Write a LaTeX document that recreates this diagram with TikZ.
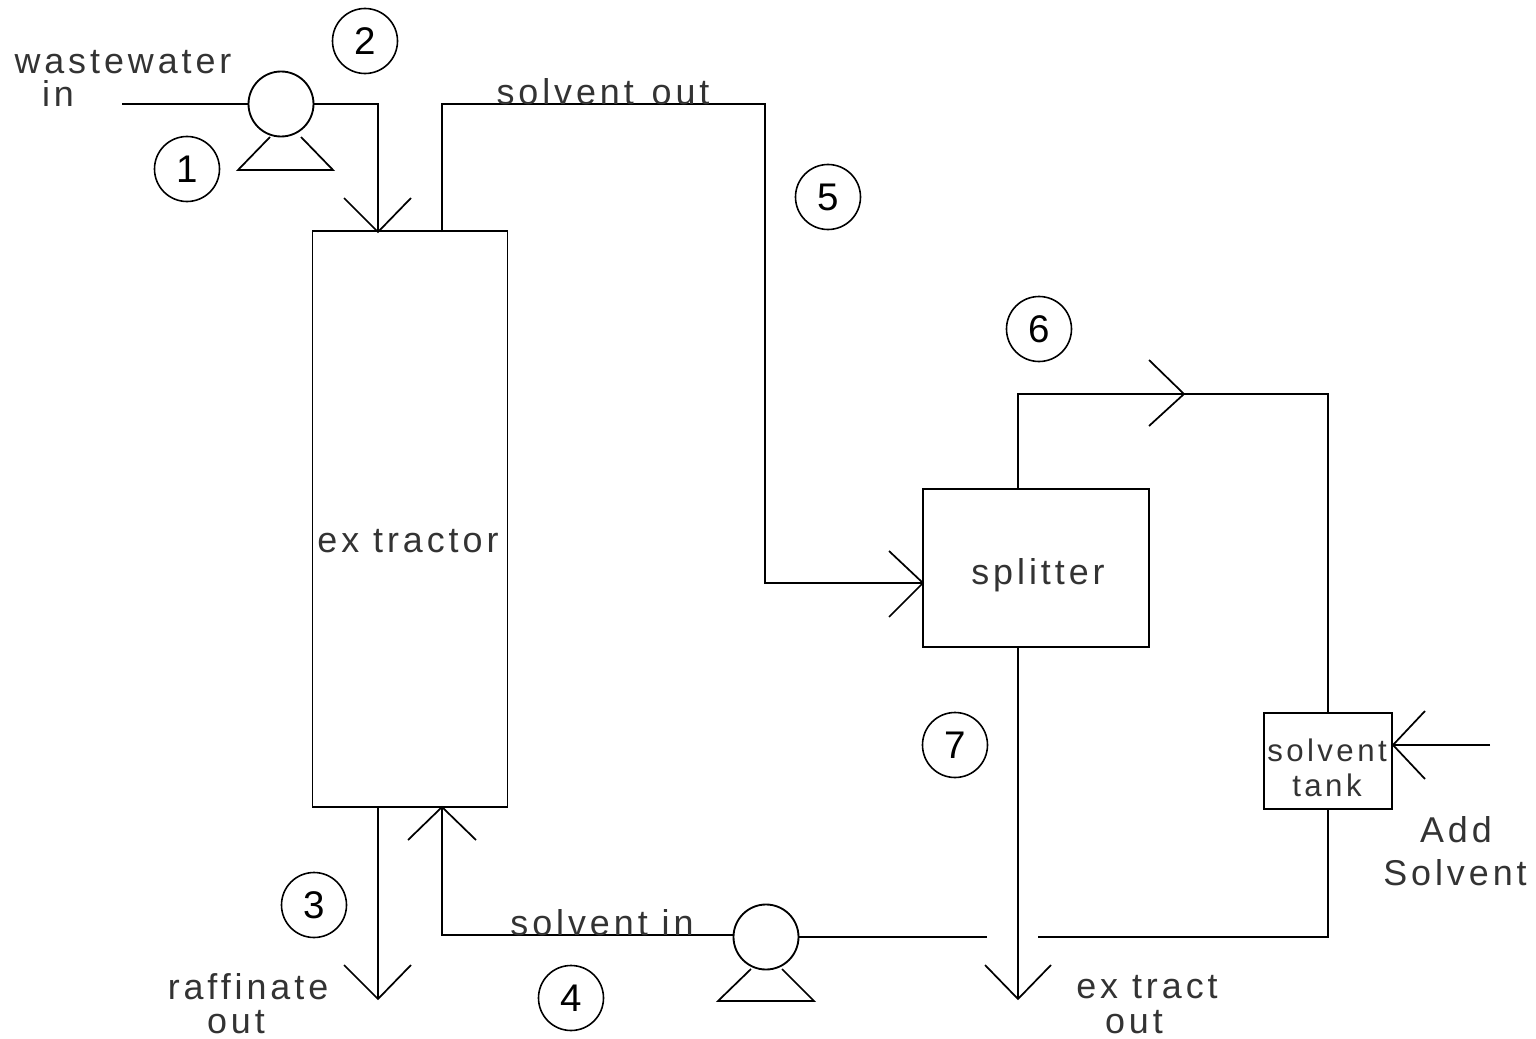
\documentclass[tikz,border=0pt]{standalone}
\usepackage{fontspec}
\setmainfont[LetterSpace=11]{Liberation Sans}
\usetikzlibrary{calc}
\tikzset{
  unit/.style={draw, line width=1.4pt, inner sep=0pt},
  pipe/.style={line width=1.3pt},
  tag/.style={circle, draw, line width=1.2pt, minimum size=1.72cm, inner sep=0pt, font=\fontsize{29}{29}\selectfont},
  pumpbody/.style={circle, draw, line width=1.4pt, minimum size=1.72cm, inner sep=0pt},
  lbl/.style={inner sep=0pt, align=center, font=\fontsize{27}{27}\selectfont, text=black!80}
}
\begin{document}
\begin{tikzpicture}[x=0.0264583cm,y=-0.0264583cm]
  \useasboundingbox (0,0) rectangle (1536,1039);
  % vessels
  \node[unit, minimum width=5.16cm, minimum height=15.24cm] (extractor) at (410,519) {};
  \node[unit, minimum width=6cm, minimum height=4.2cm] (splitter) at (1036,568) {};
  \node[unit, minimum width=3.4cm, minimum height=2.53cm] (tank) at (1328,761) {};
  \node[lbl] (extractorlbl) at (408,541) {ex tractor};
  \node[lbl] (splitterlbl) at (1038,575) {splitter};
  \node[lbl, font=\fontsize{23.5}{23.5}\selectfont] (tanklbl) at (1327,750) {solvent};
  \node[lbl, font=\fontsize{23.5}{23.5}\selectfont] (tanklblb) at (1327,785) {tank};
  % pumps
  \node[pumpbody] (pumpa) at (281,104) {};
  \node[pumpbody] (pumpb) at (766,937) {};
  \draw[pipe] (270,137) -- (238,170) -- (333,170) -- (301,137);
  \draw[pipe] (751,969) -- (718,1001) -- (814,1001) -- (782,969);
  % free ends and corners
  \coordinate (wwin) at (122,104);
  \coordinate (wwtop) at (378,104);
  \coordinate (wwend) at (378,232);
  \coordinate (soa) at (442,232);
  \coordinate (sob) at (442,104);
  \coordinate (soc) at (765,104);
  \coordinate (sod) at (765,583);
  \coordinate (soe) at (923,583);
  \coordinate (ofa) at (1018,489);
  \coordinate (ofb) at (1018,394);
  \coordinate (ofc) at (1328,394);
  \coordinate (ofd) at (1328,714);
  \coordinate (exa) at (1018,648);
  \coordinate (exb) at (1018,999);
  \coordinate (rfa) at (378,807);
  \coordinate (rfb) at (378,999);
  \coordinate (sia) at (442,807);
  \coordinate (sib) at (442,935);
  \coordinate (sic) at (734,935);
  \coordinate (tka) at (1328,809);
  \coordinate (tkb) at (1328,937);
  \coordinate (tkc) at (1038,937);
  \coordinate (tkd) at (987,937);
  \coordinate (adda) at (1490,745);
  \coordinate (addb) at (1393,745);
  % pipes
  \draw[pipe] (wwin) -- (pumpa);
  \draw[pipe] (pumpa) -- (wwtop) -- (wwend);
  \draw[pipe] (soa) -- (sob) -- (soc) -- (sod) -- (soe);
  \draw[pipe] (ofa) -- (ofb) -- (ofc) -- (ofd);
  \draw[pipe] (exa) -- (exb);
  \draw[pipe] (rfa) -- (rfb);
  \draw[pipe] (sia) -- (sib) -- (sic);
  \draw[pipe] (tka) -- (tkb) -- (tkc);
  \draw[pipe] (tkd) -- (pumpb);
  \draw[pipe] (adda) -- (addb);
  % open arrow heads
  \draw[pipe] (344,198) -- (wwend) -- (411,198);
  \draw[pipe] (344,965) -- (rfb) -- (411,965);
  \draw[pipe] (985,965) -- (exb) -- (1051,965);
  \draw[pipe] (408,840) -- (sia) -- (476,840);
  \draw[pipe] (889,551) -- (soe) -- (889,617);
  \draw[pipe] (1149,360) -- (1184,394) -- (1149,426);
  \draw[pipe] (1425,711) -- (addb) -- (1425,779);
  % stream numbers
  \foreach \name/\x/\y/\num in {tagone/187/169/1, tagtwo/365/41/2, tagthree/314/905/3, tagfour/571/998/4, tagfive/828/197/5, tagsix/1039/329/6, tagseven/955/745/7}
    \node[tag] (\name) at (\x,\y) {\num};
  % labels
  \node[lbl] (wwlbl) at (123,62) {wastewater};
  \node[lbl] (wwinlbl) at (58,94) {in};
  \node[lbl] (solout) at (603,92) {solvent\hspace{3pt} out};
  \node[lbl] (solin) at (602,923) {solvent in};
  \node[lbl] (raff) at (248,987) {raffinate};
  \node[lbl] (raffout) at (236,1022) {out};
  \node[lbl] (extr) at (1147,987) {ex tract};
  \node[lbl] (extrout) at (1134,1022) {out};
  \node[lbl] (addlbl) at (1456,830) {Add};
  \node[lbl] (addlblb) at (1455,873) {Solvent};
\end{tikzpicture}
\end{document}
